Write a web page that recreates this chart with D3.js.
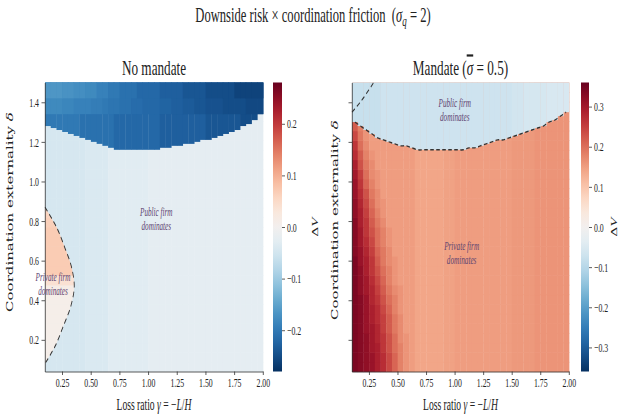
<!DOCTYPE html>
<html>
<head>
<meta charset="utf-8">
<title>Downside risk x coordination friction</title>
<style>
  body { margin: 0; background: #fff; }
  svg text { font-family: "Liberation Serif", serif; fill: #222; white-space: pre; }
  .ylab { font-family: "DejaVu Serif", serif; }
  .axis path, .axis line { stroke: #333; }
  .note { font-style: italic; fill: #5e4470; }
</style>
</head>
<body>
<div id="chart"></div>
<script src="https://d3js.org/d3.v7.min.js"></script>
<script>
// grid (cell left edges in gamma, cell centres in delta)
const gammaGrid = [0.10,0.15,0.20,0.25,0.30,0.35,0.40,0.45,0.50,0.55,0.60,0.65,0.70,0.75,0.80,0.85,0.90,0.95,1.00,
  1.05,1.10,1.15,1.20,1.25,1.30,1.35,1.40,1.45,1.50,1.55,1.60,1.65,1.70,1.75,1.80,1.85,1.90,1.95];
const deltaGrid = [0.05,0.10,0.15,0.20,0.25,0.30,0.35,0.40,0.45,0.50,0.55,0.60,0.65,0.70,0.75,
  0.80,0.85,0.90,0.95,1.00,1.05,1.10,1.15,1.20,1.25,1.30,1.35,1.40,1.45,1.50];

const xTicks = [0.25,0.50,0.75,1.00,1.25,1.50,1.75,2.00];
const yTicks = [0.2,0.4,0.6,0.8,1.0,1.2,1.4];
const cbTicksL = [-0.2,-0.1,0.0,0.1,0.2];
const cbTicksR = [-0.3,-0.2,-0.1,0.0,0.1,0.2,0.3];

// ---- No mandate ----
// delta where the dark "public" cap starts, per gamma column
const capStartL = [1.28,1.27,1.26,1.25,1.24,1.23,1.22,1.21,1.20,1.19,1.18,1.17,1.16,1.16,1.16,1.16,1.16,1.16,1.16,
  1.16,1.17,1.17,1.18,1.18,1.19,1.19,1.20,1.21,1.21,1.22,1.23,1.24,1.25,1.26,1.28,1.29,1.31,1.34];
// cap values: lower part, middle band (from 1.34), top band (from 1.42)
const capL = [-0.20,-0.20,-0.20,-0.20,-0.20,-0.20,-0.21,-0.21,-0.21,-0.21,-0.21,-0.21,-0.22,-0.22,-0.22,-0.22,-0.22,-0.22,-0.22,
  -0.22,-0.23,-0.23,-0.23,-0.23,-0.23,-0.23,-0.23,-0.23,-0.24,-0.24,-0.24,-0.24,-0.24,-0.24,-0.25,-0.25,-0.25,-0.25];
const capMidL = [-0.18,-0.18,-0.18,-0.185,-0.185,-0.19,-0.19,-0.19,-0.195,-0.195,-0.20,-0.205,-0.205,-0.21,-0.21,-0.215,-0.215,-0.22,-0.22,
  -0.22,-0.225,-0.225,-0.23,-0.23,-0.235,-0.235,-0.24,-0.24,-0.245,-0.245,-0.245,-0.25,-0.25,-0.25,-0.25,-0.255,-0.255,-0.255];
const capTopL = [-0.165,-0.165,-0.165,-0.17,-0.17,-0.175,-0.175,-0.18,-0.18,-0.19,-0.19,-0.20,-0.20,-0.21,-0.21,-0.21,-0.22,-0.22,-0.22,
  -0.22,-0.23,-0.23,-0.23,-0.23,-0.24,-0.24,-0.24,-0.24,-0.25,-0.25,-0.25,-0.25,-0.25,-0.26,-0.26,-0.26,-0.26,-0.26];
const bodyL = [-0.045,-0.045,-0.045,-0.045,-0.045,-0.045,-0.045,-0.04,-0.04,-0.04,-0.04,-0.03,-0.03,-0.03,-0.03,-0.03,-0.03,-0.03,-0.025,
  -0.025,-0.025,-0.025,-0.025,-0.025,-0.025,-0.025,-0.025,-0.025,-0.025,-0.025,-0.025,-0.025,-0.025,-0.025,-0.025,-0.025,-0.025,-0.025];
// private-firm wedge: value per delta row (rows 0.05 .. 0.85) and its dashed edge
const privL = [0.01,0.01,0.01,0.01,0.01,0.01,0.01,0.01,0.015,0.04,0.07,0.07,0.07,0.07,0.07,0.065,0.06];
const edgeDeltaL = [0.87,0.77,0.67,0.57,0.47,0.37,0.27,0.17,0.08];
const edgeGammaL = [0.10,0.20,0.27,0.33,0.355,0.325,0.26,0.19,0.10];

// ---- Mandate ----
const capStartR = [1.30,1.28,1.26,1.24,1.22,1.21,1.20,1.19,1.18,1.18,1.17,1.16,1.16,1.16,1.16,1.16,1.16,1.16,1.16,
  1.16,1.17,1.17,1.18,1.19,1.20,1.21,1.21,1.22,1.23,1.24,1.25,1.26,1.27,1.28,1.30,1.31,1.33,1.35];
const capR = [-0.08,-0.08,-0.08,-0.08,-0.08,-0.07,-0.07,-0.07,-0.07,-0.07,-0.07,-0.07,-0.07,-0.07,-0.07,-0.07,-0.07,-0.07,-0.07,
  -0.07,-0.07,-0.07,-0.07,-0.07,-0.07,-0.07,-0.07,-0.07,-0.065,-0.065,-0.06,-0.06,-0.06,-0.06,-0.055,-0.055,-0.055,-0.055];
const baseR = [0.15,0.15,0.15,0.15,0.15,0.15,0.15,0.15,0.15,0.15,0.14,0.14,0.14,0.14,0.14,0.14,0.145,0.145,0.15,
  0.15,0.15,0.15,0.15,0.15,0.15,0.15,0.15,0.15,0.155,0.155,0.155,0.155,0.16,0.16,0.16,0.16,0.16,0.16];
// dark-red strip along the left edge, hundredths, rows delta 0.05 .. 1.35, columns gamma 0.10 .. 0.65
const stripR = [
  [34,33,32,31,29,27,24,21,18,16,15,14],
  [34,33,32,31,29,27,24,21,18,16,15,14],
  [34,33,32,30,29,26,23,20,18,16,15,14],
  [34,33,32,30,28,26,23,20,17,16,15,14],
  [34,33,31,30,28,25,22,19,17,15,15,14],
  [34,33,31,29,27,25,22,19,17,15,15,14],
  [34,33,31,29,27,24,21,18,16,15,15,14],
  [34,33,31,28,26,23,20,18,16,15,15,14],
  [34,32,30,28,25,22,19,17,16,15,15,14],
  [34,32,30,27,24,21,18,16,15,15,15,14],
  [34,32,29,26,23,20,18,16,15,15,15,14],
  [34,31,29,26,22,19,17,16,15,15,15,14],
  [33,31,28,25,21,19,17,15,15,15,15,14],
  [33,30,27,24,20,18,16,15,15,15,15,14],
  [33,30,26,23,20,18,16,15,15,15,15,14],
  [33,29,26,22,19,17,15,15,15,15,15,14],
  [32,29,25,21,18,16,15,15,15,15,15,14],
  [32,28,24,20,17,16,15,15,15,15,15,14],
  [31,27,23,19,17,15,15,15,15,15,15,14],
  [31,26,21,18,16,15,15,15,15,15,15,14],
  [30,25,20,17,16,15,15,15,15,15,15,14],
  [29,23,19,17,15,15,15,15,15,15,15,14],
  [27,22,18,16,15,15,15,15,15,15,15,14],
  [26,20,17,15,15,15,15,15,15,15,15,14],
  [24,19,16,15,15,15,15,15,15,15,15,14],
  [22,18,16,15,15,15,15,15,15,15,15,14],
  [20,17,15,15,15,15,15,15,15,15,15,14]
];
const edgeDeltaR = [1.35,1.41,1.50];
const edgeGammaR = [0.10,0.185,0.29];

// ---- layout (real pixels; the svg is squeezed horizontally) ----
const sx = 0.6;
const VW = 624 / sx;
const X = r => r / sx;
const yTop = 82.5, yBot = 371.5;

const svg = d3.select("#chart").append("svg")
  .attr("width", 624).attr("height", 416)
  .attr("viewBox", `0 0 ${VW} 416`)
  .attr("preserveAspectRatio", "none");

const defs = svg.append("defs");

svg.append("text").attr("x", X(313)).attr("y", 22).attr("text-anchor", "middle")
  .style("font-size", "21px")
  .call(t => {
    t.append("tspan").text("Downside risk \u00d7 coordination friction  (");
    t.append("tspan").style("font-style", "italic").text("\u03c3");
    t.append("tspan").style("font-style", "italic").style("font-size", "15px").attr("dy", 4).text("q");
    t.append("tspan").attr("dy", -4).text(" = 2)");
  });

function panel(o) {
  const g = svg.append("g");
  const x = d3.scaleLinear().domain([0.1, 2.0]).range([X(o.x0), X(o.x1)]);
  const y = d3.scaleLinear().domain([0.04, 1.5]).range([yBot, yTop]);
  const xb = d3.scaleBand().domain(gammaGrid).range([X(o.x0), X(o.x1)]);
  const yb = d3.scaleBand().domain(deltaGrid).range([yBot, yTop]);
  const color = v => d3.interpolateRdBu((o.vmax - v) / (2 * o.vmax));

  // body cells
  const cells = [];
  gammaGrid.forEach((gm, i) => deltaGrid.forEach((dl, j) => cells.push({i, j, gm, dl, v: o.cell(i, j)})));
  g.append("g").selectAll("rect").data(cells).join("rect")
    .attr("x", d => xb(d.gm)).attr("y", d => yb(d.dl))
    .attr("width", xb.bandwidth() + 0.6).attr("height", yb.bandwidth() + 0.6)
    .attr("fill", d => color(d.v));

  if (o.wedge) {
    const edge = d3.line().x(d => x(d[0])).y(d => y(d[1])).curve(d3.curveCatmullRom);
    const pts = o.wedge.gamma.map((gm, k) => [gm, o.wedge.delta[k]]);
    defs.append("clipPath").attr("id", "wedge").append("path").attr("d", edge(pts) + "Z");
    g.append("g").attr("clip-path", "url(#wedge)").selectAll("rect")
      .data(o.wedge.values.map((v, j) => ({v, dl: deltaGrid[j]}))).join("rect")
      .attr("x", X(o.x0)).attr("y", d => yb(d.dl))
      .attr("width", X(o.x1) - X(o.x0)).attr("height", yb.bandwidth() + 0.6)
      .attr("fill", d => color(d.v));
  }

  // cap ("public firm") per column, optionally in three bands
  const capData = gammaGrid.map((gm, i) => ({gm, i, s: o.capStart[i]}));
  const bands = o.capBands || [{from: 0, vals: o.cap}];
  bands.forEach(b => {
    g.append("g").selectAll("rect").data(capData).join("rect")
      .attr("x", d => xb(d.gm)).attr("y", y(1.5))
      .attr("width", xb.bandwidth() + 0.6)
      .attr("height", d => y(Math.max(d.s, b.from)) - y(1.5))
      .attr("fill", d => color(b.vals[d.i]));
  });

  // dashed boundaries
  const dash = d3.line().x(d => x(d[0])).y(d => y(d[1])).curve(d3.curveCatmullRom);
  o.dashed.forEach(pts => {
    g.append("path").attr("d", dash(pts)).attr("fill", "none")
      .attr("stroke", "#333").attr("stroke-width", 1.4).attr("stroke-dasharray", "6,4");
  });

  // axes
  g.append("g").attr("class", "axis").attr("transform", `translate(0,${yBot})`)
    .call(d3.axisBottom(x).tickValues(xTicks).tickFormat(d3.format(".2f")).tickSize(3.5).tickSizeOuter(0).tickPadding(3))
    .selectAll("text").style("font-size", "13px").attr("fill", "#222");
  g.append("g").attr("class", "axis").attr("transform", `translate(${X(o.x0)},0)`)
    .call(d3.axisLeft(y).tickValues(yTicks).tickFormat(o.yLabels ? d3.format(".1f") : "").tickSize(X(3.5)).tickSizeOuter(0).tickPadding(X(2.5)))
    .selectAll("text").style("font-size", "13px").attr("fill", "#222");
  g.selectAll(".axis .domain").attr("stroke", "#555");

  // notes
  o.notes.forEach(n => {
    const t = g.append("text").attr("class", "note").attr("text-anchor", "middle")
      .attr("x", x(n.gamma)).attr("y", y(n.delta)).style("font-size", "12px");
    n.lines.forEach((s, k) => t.append("tspan").attr("x", x(n.gamma)).attr("dy", k ? 14 : -3).text(s));
  });

  // titles
  g.append("text").attr("x", (X(o.x0) + X(o.x1)) / 2).attr("y", 75).attr("text-anchor", "middle")
    .style("font-size", "22px").call(o.title);
  g.append("text").attr("x", (X(o.x0) + X(o.x1)) / 2).attr("y", 410).attr("text-anchor", "middle")
    .style("font-size", "16px")
    .call(t => {
      t.append("tspan").text("Loss ratio ");
      t.append("tspan").style("font-style", "italic").text("\u03b3");
      t.append("tspan").text(" = \u2212");
      t.append("tspan").style("font-style", "italic").text("L");
      t.append("tspan").text("/");
      t.append("tspan").style("font-style", "italic").text("H");
    });
  g.append("text").attr("class", "ylab").attr("text-anchor", "middle")
    .attr("transform", `translate(${X(o.ylabX)},${o.ylabY}) rotate(-90)`)
    .style("font-size", "15px")
    .call(t => {
      t.append("tspan").text("Coordination externality ");
      t.append("tspan").style("font-style", "italic").text("\u03b4");
    });

  // colorbar
  const cy = d3.scaleLinear().domain([-o.vmax, o.vmax]).range([yBot, yTop]);
  const gid = "cb" + o.id;
  const grad = defs.append("linearGradient").attr("id", gid)
    .attr("x1", 0).attr("y1", 1).attr("x2", 0).attr("y2", 0);
  d3.range(0, 1.0001, 0.05).forEach(f => grad.append("stop")
    .attr("offset", f).attr("stop-color", color(-o.vmax + 2 * o.vmax * f)));
  g.append("rect").attr("x", X(o.cb0)).attr("y", yTop).attr("width", X(o.cb1) - X(o.cb0))
    .attr("height", yBot - yTop).attr("fill", `url(#${gid})`);
  g.append("g").attr("class", "axis").attr("transform", `translate(${X(o.cb1)},0)`)
    .call(d3.axisRight(cy).tickValues(o.cbTicks).tickFormat(d3.format(".1f")).tickSize(X(3)).tickSizeOuter(0).tickPadding(X(2)))
    .call(a => a.select(".domain").remove())
    .selectAll("text").style("font-size", "13px").attr("fill", "#222");
  g.append("text").attr("text-anchor", "middle")
    .attr("transform", `translate(${X(o.dvX)},${(yTop + yBot) / 2}) rotate(-90)`)
    .style("font-size", "15px")
    .call(t => {
      t.append("tspan").text("\u0394");
      t.append("tspan").style("font-style", "italic").text("V");
    });
}

panel({
  id: "L", x0: 45, x1: 263, cb0: 273, cb1: 282, vmax: 0.28, cbTicks: cbTicksL,
  yLabels: true, ylabX: 13, ylabY: 212, dvX: 318,
  cell: (i, j) => bodyL[i],
  capStart: capStartL,
  capBands: [{from: 0, vals: capL}, {from: 1.34, vals: capMidL}, {from: 1.42, vals: capTopL}],
  wedge: {gamma: edgeGammaL, delta: edgeDeltaL, values: privL},
  dashed: [edgeGammaL.map((gm, k) => [gm, edgeDeltaL[k]])],
  notes: [
    {gamma: 1.07, delta: 0.81, lines: ["Public firm", "dominates"]},
    {gamma: 0.17, delta: 0.48, lines: ["Private firm", "dominates"]}
  ],
  title: t => t.text("No mandate")
});

panel({
  id: "R", x0: 352, x1: 569, cb0: 581, cb1: 589, vmax: 0.36, cbTicks: cbTicksR,
  yLabels: false, ylabX: 338, ylabY: 220, dvX: 617,
  cell: (i, j) => (j < stripR.length && i < stripR[j].length) ? stripR[j][i] / 100 : baseR[i],
  capStart: capStartR, cap: capR,
  dashed: [
    gammaGrid.map((gm, i) => [gm + 0.025, capStartR[i]]),
    edgeGammaR.map((gm, k) => [gm, edgeDeltaR[k]])
  ],
  notes: [
    {gamma: 1.0, delta: 1.36, lines: ["Public firm", "dominates"]},
    {gamma: 1.06, delta: 0.64, lines: ["Private firm", "dominates"]}
  ],
  title: t => {
    t.append("tspan").text("Mandate (");
    t.append("tspan").style("font-style", "italic").style("text-decoration", "overline").text("\u03c3");
    t.append("tspan").text(" = 0.5)");
  }
});
</script>
</body>
</html>
